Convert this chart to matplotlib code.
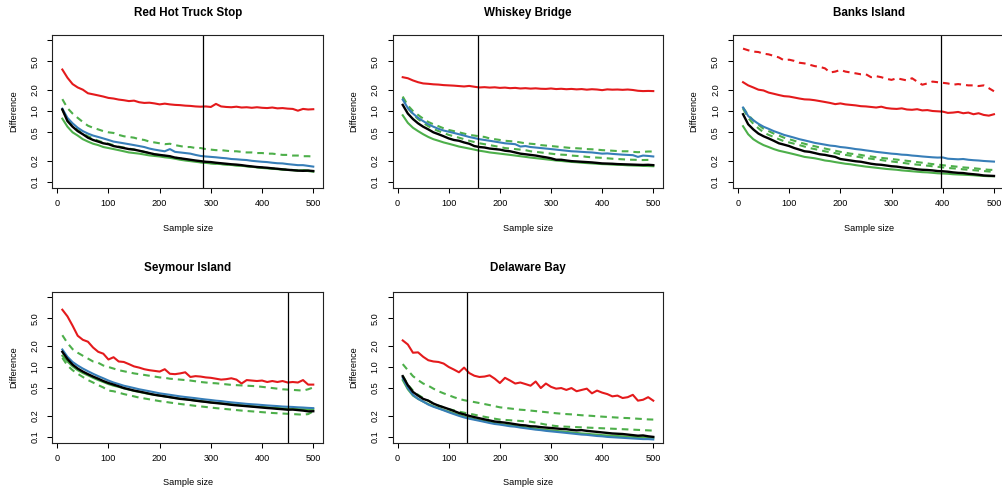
import matplotlib
matplotlib.use("Agg")
import matplotlib.pyplot as plt
import numpy as np

plt.rcParams['font.family'] = ['Liberation Sans', 'DejaVu Sans']

RED = '#E41A1C'
BLUE = '#377EB8'
GREEN = '#4DAF4A'

# sample sizes (x axis)
n = list(range(10, 501, 10))

sites = ["Red Hot Truck Stop", "Whiskey Bridge", "Banks Island", "Seymour Island", "Delaware Bay"]
cutoff = [284, 157, 397, 450, 136]

# ---- Red Hot Truck Stop
rhts_red = [3.85, 2.95, 2.4, 2.15, 2.0, 1.78, 1.72, 1.66, 1.6, 1.53, 1.5, 1.45, 1.42, 1.38, 1.40, 1.33, 1.30,
            1.31, 1.28, 1.24, 1.27, 1.24, 1.22, 1.21, 1.19, 1.18, 1.16, 1.15, 1.16, 1.14, 1.26, 1.16, 1.14,
            1.13, 1.15, 1.12, 1.13, 1.11, 1.13, 1.11, 1.10, 1.12, 1.09, 1.10, 1.08, 1.07, 1.01, 1.07, 1.05, 1.06]
rhts_gdash1 = [1.47, 1.1, 0.92, 0.8, 0.7, 0.62, 0.58, 0.55, 0.52, 0.5, 0.49, 0.46, 0.44, 0.43, 0.42, 0.40, 0.39,
               0.37, 0.36, 0.35, 0.34, 0.345, 0.33, 0.32, 0.31, 0.31, 0.30, 0.30, 0.29, 0.285, 0.28, 0.28, 0.275,
               0.27, 0.27, 0.265, 0.26, 0.26, 0.255, 0.255, 0.25, 0.25, 0.245, 0.24, 0.24, 0.235, 0.235, 0.23,
               0.23, 0.228]
rhts_gdash2 = [1.05, 0.75, 0.62, 0.54, 0.48, 0.44, 0.41, 0.38, 0.36, 0.345, 0.33, 0.315, 0.305, 0.295, 0.285,
               0.275, 0.265, 0.255, 0.245, 0.238, 0.232, 0.226, 0.22, 0.214, 0.208, 0.2, 0.196, 0.19, 0.187,
               0.183, 0.18, 0.178, 0.176, 0.174, 0.171, 0.169, 0.166, 0.164, 0.161, 0.159, 0.157, 0.155, 0.152,
               0.15, 0.149, 0.147, 0.145, 0.146, 0.144, 0.141]
rhts_green = [0.78, 0.6, 0.5, 0.45, 0.40, 0.37, 0.345, 0.33, 0.31, 0.30, 0.29, 0.28, 0.27, 0.26, 0.255, 0.25,
              0.243, 0.236, 0.232, 0.228, 0.222, 0.218, 0.212, 0.205, 0.2, 0.196, 0.192, 0.188, 0.185, 0.182,
              0.18, 0.178, 0.175, 0.173, 0.17, 0.168, 0.166, 0.163, 0.16, 0.157, 0.155, 0.153, 0.151, 0.149,
              0.147, 0.146, 0.144, 0.146, 0.142, 0.139]
rhts_blue = [1.08, 0.8, 0.67, 0.58, 0.52, 0.48, 0.45, 0.43, 0.41, 0.39, 0.37, 0.36, 0.35, 0.34, 0.33, 0.32, 0.31,
             0.295, 0.285, 0.277, 0.27, 0.29, 0.265, 0.26, 0.255, 0.25, 0.24, 0.232, 0.228, 0.225, 0.222, 0.218,
             0.215, 0.21, 0.208, 0.205, 0.203, 0.198, 0.195, 0.192, 0.19, 0.186, 0.183, 0.182, 0.178, 0.175,
             0.172, 0.172, 0.168, 0.164]
rhts_black = [1.05, 0.72, 0.6, 0.52, 0.47, 0.42, 0.39, 0.37, 0.35, 0.34, 0.32, 0.31, 0.30, 0.29, 0.285, 0.275,
              0.265, 0.255, 0.245, 0.24, 0.235, 0.23, 0.22, 0.215, 0.21, 0.205, 0.2, 0.196, 0.192, 0.19, 0.186,
              0.183, 0.18, 0.177, 0.175, 0.172, 0.168, 0.165, 0.162, 0.16, 0.158, 0.155, 0.153, 0.15, 0.148,
              0.146, 0.144, 0.143, 0.144, 0.142]

# ---- Whiskey Bridge
wb_red = [3.0, 2.9, 2.7, 2.55, 2.45, 2.42, 2.38, 2.36, 2.32, 2.3, 2.28, 2.25, 2.22, 2.26, 2.2, 2.15, 2.17, 2.14,
          2.16, 2.12, 2.14, 2.1, 2.12, 2.08, 2.1, 2.07, 2.09, 2.06, 2.05, 2.08, 2.04, 2.06, 2.03, 2.05, 2.02,
          2.04, 2.0, 2.03, 2.01, 1.97, 2.02, 2.0, 2.01, 1.99, 2.01, 1.98, 1.93, 1.91, 1.92, 1.91]
wb_gdash1 = [1.6, 1.2, 1.0, 0.88, 0.78, 0.7, 0.65, 0.61, 0.57, 0.54, 0.52, 0.5, 0.48, 0.46, 0.45, 0.44, 0.43,
             0.41, 0.40, 0.39, 0.38, 0.375, 0.37, 0.36, 0.35, 0.345, 0.34, 0.33, 0.325, 0.32, 0.315, 0.31, 0.305,
             0.30, 0.298, 0.295, 0.29, 0.288, 0.285, 0.28, 0.278, 0.275, 0.272, 0.27, 0.27, 0.265, 0.262, 0.265,
             0.268, 0.268]
wb_gdash2 = [1.55, 1.1, 0.9, 0.77, 0.68, 0.61, 0.56, 0.52, 0.49, 0.46, 0.44, 0.42, 0.40, 0.38, 0.365, 0.35, 0.34,
             0.33, 0.32, 0.31, 0.30, 0.295, 0.29, 0.285, 0.28, 0.27, 0.265, 0.26, 0.255, 0.25, 0.245, 0.242, 0.24,
             0.235, 0.232, 0.23, 0.225, 0.222, 0.22, 0.218, 0.215, 0.212, 0.21, 0.208, 0.206, 0.205, 0.204,
             0.203, 0.204, 0.204]
wb_green = [0.87, 0.68, 0.58, 0.52, 0.47, 0.43, 0.4, 0.38, 0.36, 0.345, 0.33, 0.315, 0.305, 0.295, 0.285, 0.275,
            0.268, 0.26, 0.255, 0.25, 0.245, 0.24, 0.235, 0.23, 0.225, 0.22, 0.216, 0.212, 0.208, 0.204, 0.2,
            0.197, 0.194, 0.191, 0.189, 0.186, 0.184, 0.182, 0.18, 0.178, 0.177, 0.175, 0.174, 0.173, 0.171, 0.17,
            0.169, 0.168, 0.167, 0.166]
wb_blue = [1.45, 1.1, 0.92, 0.8, 0.72, 0.65, 0.6, 0.56, 0.53, 0.51, 0.49, 0.47, 0.45, 0.43, 0.415, 0.40, 0.39,
           0.38, 0.37, 0.36, 0.35, 0.345, 0.34, 0.315, 0.32, 0.31, 0.305, 0.30, 0.295, 0.29, 0.285, 0.28, 0.275,
           0.27, 0.268, 0.265, 0.262, 0.26, 0.255, 0.25, 0.252, 0.248, 0.245, 0.242, 0.24, 0.238, 0.225, 0.235,
           0.232, 0.228]
wb_black = [1.22, 0.92, 0.77, 0.67, 0.6, 0.55, 0.5, 0.47, 0.44, 0.41, 0.39, 0.38, 0.36, 0.345, 0.32, 0.31, 0.305,
            0.295, 0.29, 0.285, 0.275, 0.27, 0.26, 0.25, 0.245, 0.24, 0.235, 0.228, 0.222, 0.215, 0.205, 0.205,
            0.2, 0.196, 0.194, 0.192, 0.19, 0.188, 0.185, 0.182, 0.181, 0.18, 0.178, 0.177, 0.176, 0.175, 0.174,
            0.173, 0.174, 0.172]

# ---- Banks Island
bi_red_dash = [7.6, 7.2, 6.9, 6.8, 6.45, 6.3, 6.0, 5.7, 5.2, 5.3, 5.1, 4.8, 4.7, 4.5, 4.3, 4.2, 4.0, 3.5, 3.6,
               3.8, 3.6, 3.5, 3.4, 3.3, 3.3, 3.0, 3.1, 3.0, 2.85, 2.75, 2.9, 2.8, 2.7, 2.9, 2.6, 2.35, 2.45, 2.6,
               2.55, 2.5, 2.45, 2.35, 2.4, 2.35, 2.3, 2.3, 2.25, 2.3, 2.1, 1.9]
bi_red = [2.55, 2.3, 2.15, 2.0, 1.95, 1.82, 1.75, 1.68, 1.62, 1.6, 1.55, 1.5, 1.46, 1.45, 1.42, 1.38, 1.34, 1.3,
          1.25, 1.28, 1.24, 1.22, 1.2, 1.17, 1.16, 1.14, 1.12, 1.15, 1.1, 1.08, 1.07, 1.09, 1.05, 1.04, 1.06,
          1.02, 1.03, 1.0, 0.99, 0.98, 0.94, 0.95, 0.97, 0.93, 0.95, 0.9, 0.93, 0.88, 0.86, 0.9]
bi_gdash1 = [1.12, 0.88, 0.74, 0.64, 0.56, 0.52, 0.48, 0.45, 0.42, 0.4, 0.38, 0.36, 0.345, 0.33, 0.318, 0.305,
             0.295, 0.285, 0.275, 0.265, 0.258, 0.25, 0.245, 0.24, 0.232, 0.228, 0.222, 0.218, 0.214, 0.21, 0.206,
             0.202, 0.198, 0.194, 0.19, 0.186, 0.182, 0.178, 0.175, 0.172, 0.168, 0.166, 0.163, 0.16, 0.158,
             0.156, 0.153, 0.15, 0.148, 0.147]
bi_gdash2 = [1.08, 0.8, 0.66, 0.57, 0.5, 0.46, 0.43, 0.4, 0.375, 0.36, 0.345, 0.33, 0.315, 0.3, 0.29, 0.28, 0.27,
             0.262, 0.254, 0.245, 0.24, 0.234, 0.228, 0.222, 0.216, 0.212, 0.207, 0.203, 0.198, 0.194, 0.19,
             0.186, 0.182, 0.178, 0.175, 0.172, 0.169, 0.166, 0.163, 0.16, 0.157, 0.155, 0.153, 0.15, 0.148,
             0.146, 0.144, 0.142, 0.14, 0.139]
bi_green = [0.61, 0.47, 0.4, 0.36, 0.33, 0.31, 0.29, 0.275, 0.265, 0.255, 0.245, 0.235, 0.225, 0.22, 0.215, 0.208,
            0.2, 0.196, 0.19, 0.185, 0.18, 0.177, 0.172, 0.168, 0.164, 0.161, 0.158, 0.155, 0.152, 0.15, 0.148,
            0.145, 0.143, 0.141, 0.139, 0.137, 0.136, 0.134, 0.132, 0.131, 0.13, 0.128, 0.127, 0.126, 0.125,
            0.124, 0.122, 0.121, 0.12, 0.12]
bi_blue = [1.12, 0.85, 0.74, 0.66, 0.6, 0.56, 0.52, 0.49, 0.46, 0.44, 0.42, 0.40, 0.385, 0.37, 0.355, 0.345,
           0.335, 0.325, 0.32, 0.31, 0.305, 0.298, 0.29, 0.285, 0.278, 0.272, 0.265, 0.26, 0.255, 0.25, 0.247,
           0.242, 0.24, 0.235, 0.232, 0.228, 0.225, 0.222, 0.22, 0.221, 0.212, 0.21, 0.208, 0.21, 0.205, 0.202,
           0.2, 0.197, 0.195, 0.193]
bi_black = [0.9, 0.65, 0.55, 0.48, 0.44, 0.41, 0.38, 0.35, 0.335, 0.32, 0.3, 0.285, 0.27, 0.265, 0.255, 0.245,
            0.24, 0.232, 0.225, 0.21, 0.205, 0.2, 0.195, 0.192, 0.186, 0.18, 0.176, 0.174, 0.17, 0.166, 0.164,
            0.16, 0.157, 0.154, 0.15, 0.148, 0.147, 0.145, 0.142, 0.141, 0.139, 0.136, 0.134, 0.133, 0.13, 0.128,
            0.126, 0.123, 0.122, 0.121]

# ---- Seymour Island
si_red = [6.6, 5.3, 3.9, 2.8, 2.45, 2.3, 1.9, 1.65, 1.55, 1.28, 1.38, 1.2, 1.18, 1.1, 1.02, 0.98, 0.93, 0.9,
          0.88, 0.86, 0.93, 0.8, 0.79, 0.81, 0.84, 0.72, 0.74, 0.73, 0.71, 0.7, 0.68, 0.66, 0.67, 0.69, 0.66,
          0.58, 0.65, 0.64, 0.63, 0.64, 0.61, 0.63, 0.61, 0.63, 0.6, 0.61, 0.6, 0.65, 0.56, 0.56]
si_gdash1 = [2.85, 2.2, 1.8, 1.6, 1.45, 1.32, 1.2, 1.15, 1.05, 1.0, 0.95, 0.9, 0.87, 0.84, 0.81, 0.79, 0.77, 0.75,
             0.73, 0.71, 0.7, 0.68, 0.67, 0.66, 0.65, 0.64, 0.625, 0.61, 0.6, 0.59, 0.585, 0.575, 0.565, 0.555,
             0.55, 0.545, 0.54, 0.535, 0.53, 0.52, 0.51, 0.5, 0.49, 0.48, 0.475, 0.47, 0.465, 0.46, 0.48, 0.51]
si_gdash2 = [1.35, 1.05, 0.9, 0.8, 0.72, 0.65, 0.6, 0.55, 0.51, 0.46, 0.45, 0.43, 0.41, 0.395, 0.38, 0.365, 0.355,
             0.345, 0.335, 0.325, 0.318, 0.31, 0.303, 0.296, 0.29, 0.284, 0.278, 0.273, 0.268, 0.263, 0.258,
             0.254, 0.25, 0.246, 0.242, 0.238, 0.235, 0.232, 0.229, 0.226, 0.223, 0.22, 0.218, 0.216, 0.214,
             0.212, 0.21, 0.208, 0.212, 0.232]
si_green = [1.45, 1.2, 1.02, 0.9, 0.82, 0.76, 0.7, 0.65, 0.61, 0.57, 0.54, 0.52, 0.495, 0.475, 0.455, 0.44, 0.425,
            0.41, 0.4, 0.39, 0.38, 0.37, 0.36, 0.352, 0.345, 0.338, 0.332, 0.325, 0.318, 0.312, 0.307, 0.302,
            0.297, 0.292, 0.287, 0.283, 0.279, 0.275, 0.271, 0.268, 0.265, 0.262, 0.259, 0.256, 0.254, 0.252,
            0.25, 0.249, 0.248, 0.248]
si_blue = [1.78, 1.4, 1.18, 1.05, 0.95, 0.87, 0.8, 0.74, 0.69, 0.64, 0.6, 0.57, 0.54, 0.52, 0.5, 0.48, 0.465,
           0.45, 0.435, 0.42, 0.41, 0.4, 0.39, 0.38, 0.372, 0.365, 0.358, 0.35, 0.343, 0.337, 0.33, 0.325, 0.318,
           0.312, 0.307, 0.302, 0.297, 0.293, 0.29, 0.286, 0.282, 0.279, 0.276, 0.272, 0.27, 0.268, 0.265, 0.263,
           0.26, 0.258]
si_black = [1.65, 1.3, 1.08, 0.95, 0.86, 0.79, 0.73, 0.68, 0.63, 0.59, 0.56, 0.53, 0.5, 0.48, 0.46, 0.445, 0.43,
            0.415, 0.4, 0.39, 0.38, 0.37, 0.36, 0.35, 0.345, 0.338, 0.33, 0.323, 0.317, 0.31, 0.305, 0.3, 0.294,
            0.288, 0.283, 0.279, 0.275, 0.271, 0.267, 0.263, 0.259, 0.256, 0.252, 0.249, 0.245, 0.246, 0.242,
            0.238, 0.232, 0.233]

# ---- Delaware Bay
db_red = [2.4, 2.1, 1.6, 1.62, 1.4, 1.25, 1.2, 1.18, 1.12, 1.0, 0.92, 0.84, 0.98, 0.82, 0.75, 0.72, 0.73, 0.76,
          0.68, 0.59, 0.7, 0.64, 0.58, 0.6, 0.57, 0.54, 0.62, 0.5, 0.58, 0.52, 0.49, 0.5, 0.47, 0.5, 0.45, 0.47,
          0.49, 0.42, 0.46, 0.43, 0.41, 0.38, 0.39, 0.36, 0.37, 0.4, 0.33, 0.34, 0.37, 0.33]
db_gdash1 = [1.1, 0.9, 0.74, 0.65, 0.58, 0.54, 0.49, 0.45, 0.42, 0.395, 0.37, 0.35, 0.335, 0.325, 0.315, 0.305,
             0.295, 0.285, 0.275, 0.265, 0.26, 0.255, 0.25, 0.245, 0.242, 0.238, 0.234, 0.23, 0.226, 0.222, 0.218,
             0.215, 0.212, 0.21, 0.207, 0.204, 0.202, 0.2, 0.197, 0.195, 0.193, 0.191, 0.189, 0.187, 0.186,
             0.184, 0.182, 0.18, 0.178, 0.177]
db_gdash2 = [0.75, 0.56, 0.46, 0.4, 0.36, 0.33, 0.3, 0.28, 0.265, 0.25, 0.24, 0.23, 0.222, 0.215, 0.208, 0.2,
             0.194, 0.188, 0.182, 0.177, 0.175, 0.173, 0.171, 0.169, 0.167, 0.165, 0.16, 0.155, 0.15, 0.146,
             0.143, 0.141, 0.14, 0.139, 0.138, 0.137, 0.136, 0.135, 0.134, 0.133, 0.132, 0.131, 0.13, 0.129,
             0.128, 0.127, 0.126, 0.125, 0.124, 0.123]
db_green = [0.65, 0.48, 0.39, 0.35, 0.32, 0.295, 0.275, 0.258, 0.243, 0.23, 0.217, 0.206, 0.195, 0.186, 0.18,
            0.174, 0.168, 0.162, 0.157, 0.153, 0.149, 0.146, 0.143, 0.14, 0.137, 0.134, 0.131, 0.128, 0.126,
            0.124, 0.122, 0.12, 0.118, 0.116, 0.114, 0.112, 0.111, 0.109, 0.108, 0.106, 0.105, 0.104, 0.103,
            0.102, 0.101, 0.1, 0.099, 0.099, 0.098, 0.097]
db_blue = [0.7, 0.5, 0.4, 0.35, 0.32, 0.29, 0.27, 0.255, 0.24, 0.225, 0.212, 0.2, 0.19, 0.182, 0.176, 0.17, 0.164,
           0.158, 0.153, 0.15, 0.146, 0.142, 0.14, 0.136, 0.133, 0.13, 0.127, 0.125, 0.122, 0.12, 0.118, 0.116,
           0.114, 0.112, 0.11, 0.108, 0.107, 0.105, 0.103, 0.102, 0.1, 0.099, 0.098, 0.097, 0.096, 0.095, 0.094,
           0.093, 0.093, 0.092]
db_black = [0.74, 0.55, 0.44, 0.39, 0.35, 0.33, 0.3, 0.28, 0.265, 0.25, 0.235, 0.22, 0.21, 0.2, 0.192, 0.185,
            0.178, 0.172, 0.166, 0.163, 0.16, 0.156, 0.152, 0.148, 0.146, 0.142, 0.141, 0.138, 0.136, 0.134,
            0.132, 0.13, 0.129, 0.126, 0.124, 0.125, 0.122, 0.12, 0.118, 0.116, 0.114, 0.112, 0.111, 0.11, 0.108,
            0.106, 0.104, 0.105, 0.102, 0.1]

# (values, colour, dashed, width) in drawing order
panels = [
    [(rhts_red, RED, False, 1.5), (rhts_gdash1, GREEN, True, 1.5), (rhts_gdash2, GREEN, True, 1.5),
     (rhts_green, GREEN, False, 1.5), (rhts_blue, BLUE, False, 1.5), (rhts_black, 'black', False, 1.7)],
    [(wb_red, RED, False, 1.5), (wb_gdash1, GREEN, True, 1.5), (wb_gdash2, GREEN, True, 1.5),
     (wb_green, GREEN, False, 1.5), (wb_blue, BLUE, False, 1.5), (wb_black, 'black', False, 1.7)],
    [(bi_red_dash, RED, True, 1.5), (bi_red, RED, False, 1.5), (bi_gdash1, GREEN, True, 1.5),
     (bi_gdash2, GREEN, True, 1.5), (bi_green, GREEN, False, 1.5), (bi_blue, BLUE, False, 1.5),
     (bi_black, 'black', False, 1.7)],
    [(si_red, RED, False, 1.5), (si_gdash1, GREEN, True, 1.5), (si_gdash2, GREEN, True, 1.5),
     (si_green, GREEN, False, 1.5), (si_blue, BLUE, False, 1.5), (si_black, 'black', False, 1.7)],
    [(db_red, RED, False, 1.5), (db_gdash1, GREEN, True, 1.5), (db_gdash2, GREEN, True, 1.5),
     (db_green, GREEN, False, 1.5), (db_blue, BLUE, False, 1.5), (db_black, 'black', False, 1.7)],
]

yticks = [0.1, 0.2, 0.5, 1.0, 2.0, 5.0, 10.0]
ytick_labels = ["0.1", "0.2", "0.5", "1.0", "2.0", "5.0", ""]
xticks = [0, 100, 200, 300, 400, 500]

W, H = 1003, 491
fig = plt.figure(figsize=(W / 100, H / 100), dpi=100)

# panel boxes in pixels: (left, right, top, bottom)
cols = [(52.3, 323.3), (392.7, 663.3), (733.0, 1005.0)]
rows = [(34.5, 187.5), (291.5, 442.5)]

for i, site in enumerate(sites):
    l, r = cols[i % 3]
    t, b = rows[i // 3]
    ax = fig.add_axes([l / W, 1 - b / H, (r - l) / W, (b - t) / H])
    for vals, col, dashed, lw in panels[i]:
        ln, = ax.plot(n, vals, color=col, lw=lw, solid_joinstyle='round')
        if dashed:
            ln.set_dashes((3.2, 2.4))
    ax.axvline(cutoff[i], color='black', lw=0.9)

    ax.set_yscale('log')
    # x range 10-500 and y range 0.1-10, each padded by 4%
    x0 = 10 - 0.04 * 490
    x1 = 500 + 0.04 * 490
    if i == 2:
        # the last column runs off the right edge of the page
        x1 = x0 + (x1 - x0) * (r - l) / (cols[0][1] - cols[0][0])
    ax.set_xlim(x0, x1)
    ax.set_ylim(10 ** -1.08, 10 ** 1.08)
    ax.yaxis.set_minor_locator(matplotlib.ticker.NullLocator())
    ax.set_yticks(yticks)
    ax.set_yticklabels(ytick_labels, rotation=90, va='center')
    ax.set_xticks(xticks)
    ax.tick_params(direction='out', length=3.8, width=0.75, labelsize=6.6, color='black')
    ax.tick_params(axis='x', pad=4.5)
    ax.tick_params(axis='y', pad=5.5)
    for s in ax.spines.values():
        s.set_linewidth(0.8)
        s.set_color('#222222')

    ax.set_xlabel("Sample size", fontsize=6.6)
    ax.xaxis.set_label_coords(0.5, -0.265)
    ax.xaxis.label.set_va('center')
    ax.set_ylabel("Difference", fontsize=6.6)
    ax.yaxis.set_label_coords(-0.143, 0.5)
    ax.yaxis.label.set_va('center')

    ty = 1.139 if i < 3 else 1.154
    ax.set_title(site, fontsize=8.4, fontweight='bold', y=ty, va='center', pad=0)

fig.savefig('out.png', dpi=100)
